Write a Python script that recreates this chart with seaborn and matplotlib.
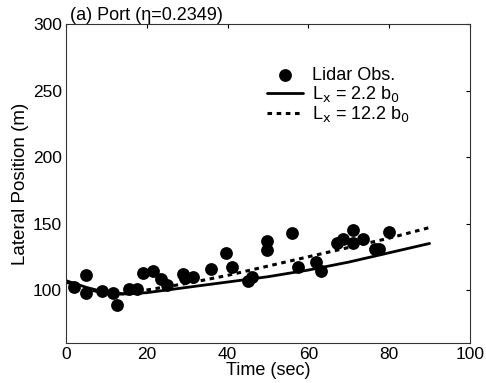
import numpy as np
import pandas as pd
import matplotlib
matplotlib.use("Agg")
import matplotlib.pyplot as plt
import seaborn as sns

# lidar observations (time in sec, lateral position in m)
obs_time = [2.0, 5.0, 5.0, 8.8, 11.5, 12.5, 15.5, 17.5, 19.0, 21.5, 23.5, 25.0,
            29.0, 29.5, 31.5, 36.0, 39.5, 41.0, 45.0, 46.0, 49.8, 49.8, 56.0,
            57.5, 62.0, 63.0, 67.0, 68.5, 71.0, 71.0, 73.5, 76.5, 77.5, 80.0]
obs_pos = [102, 111, 98, 99, 98, 89, 101, 101, 113, 114, 108, 104,
           112, 109, 110, 116, 128, 117, 107, 110, 137, 130, 143,
           117, 121, 114, 135, 138, 145, 135, 138, 131, 131, 144]

# model curves
model_time = [0, 5, 10, 15, 20, 30, 40, 50, 60, 70, 80, 90]
lx_22 = [107, 102, 98, 97, 98, 102, 106, 110, 115, 121, 128, 135]
lx_122 = [106, 101, 97, 97, 100, 105, 111, 118, 125, 132, 139, 147]

sns.set_style("white")
plt.rcParams['font.family'] = ['Liberation Sans', 'DejaVu Sans']

fig = plt.figure(figsize=(4.86, 3.83), dpi=100)
ax = fig.add_axes([0.136, 0.104, 0.831, 0.833])

obs = pd.DataFrame({'t': obs_time, 'y': obs_pos})
models = pd.DataFrame({'t': model_time, 'a': lx_22, 'b': lx_122})

sns.scatterplot(data=obs, x='t', y='y', ax=ax, color='black', s=85,
                edgecolor='black', linewidth=0, label='Lidar Obs.', zorder=3)
sns.lineplot(data=models, x='t', y='a', ax=ax, color='black', lw=2.0,
             label=r'L$_{\rm x}$ = 2.2 b$_0$')
sns.lineplot(data=models, x='t', y='b', ax=ax, color='black', lw=2.2,
             linestyle=(0, (1.5, 1.5)), label=r'L$_{\rm x}$ = 12.2 b$_0$')

ax.set_xlim(0, 100)
ax.set_ylim(60, 300)
ax.set_xticks([0, 20, 40, 60, 80, 100])
ax.set_yticks([100, 150, 200, 250, 300])
ax.tick_params(direction='in', top=True, right=True, length=3, pad=3,
               labelsize=12.5, colors='black')
for sp in ax.spines.values():
    sp.set_color('#333333')
    sp.set_linewidth(0.8)

ax.set_xlabel('Time (sec)', fontsize=13, labelpad=0, color='black')
ax.set_ylabel('Lateral Position (m)', fontsize=13.5, labelpad=3, color='black')
ax.set_title('(a) Port (η=0.2349)', fontsize=13, loc='left', pad=3, x=0.01,
             color='black')

leg = ax.legend(loc='upper left', bbox_to_anchor=(0.465, 0.905), frameon=False,
                fontsize=13, handlelength=2.0, handletextpad=0.5,
                labelspacing=0.0, borderpad=0.2)
for t in leg.get_texts():
    t.set_color('black')

fig.savefig('out.png', dpi=100)
